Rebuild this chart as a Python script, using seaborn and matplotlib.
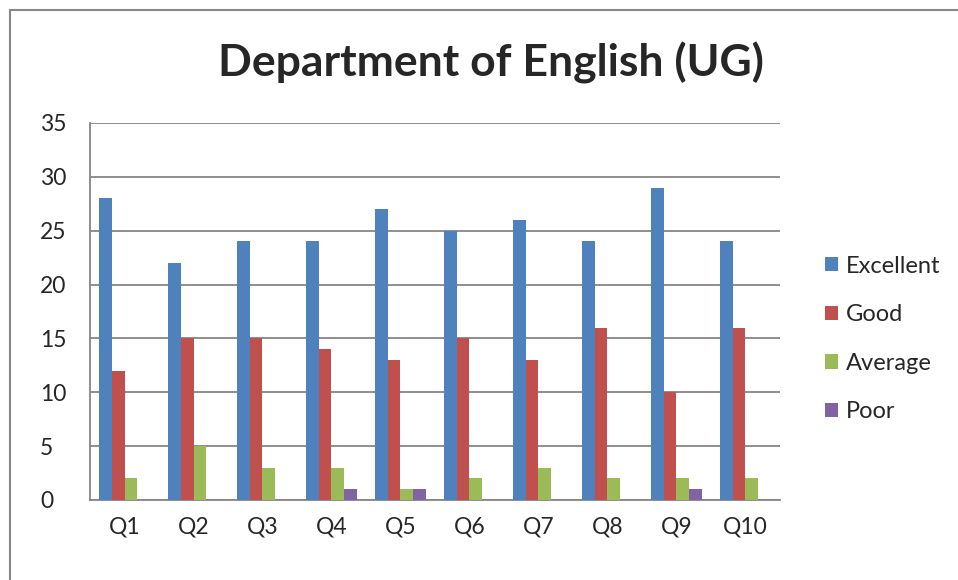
import matplotlib
matplotlib.use("Agg")
import matplotlib.pyplot as plt
import seaborn as sns
import pandas as pd
from matplotlib.lines import Line2D

questions = ["Q1", "Q2", "Q3", "Q4", "Q5", "Q6", "Q7", "Q8", "Q9", "Q10"]
excellent = [28, 22, 24, 24, 27, 25, 26, 24, 29, 24]
good = [12, 15, 15, 14, 13, 15, 13, 16, 10, 16]
average = [2, 5, 3, 3, 1, 2, 3, 2, 2, 2]
poor = [0, 0, 0, 1, 1, 0, 0, 0, 1, 0]
ratings = ["Excellent", "Good", "Average", "Poor"]
colors = ["#4F81BD", "#C0504D", "#9BBB59", "#8064A2"]

rows = []
for name, vals in zip(ratings, [excellent, good, average, poor]):
    for q, v in zip(questions, vals):
        rows.append({"Question": q, "Rating": name, "Count": v})
df = pd.DataFrame(rows)

sns.set_theme(style="white")
plt.rcParams["font.family"] = ["Lato", "DejaVu Sans"]

fig = plt.figure(figsize=(9.58, 5.8), dpi=100)
ax = fig.add_axes([0.094, 0.138, 0.72, 0.65])

sns.barplot(data=df, x="Question", y="Count", hue="Rating", order=questions,
            hue_order=ratings, palette=colors, width=0.74, saturation=1,
            linewidth=0, ax=ax, zorder=3)

ax.set_ylim(0, 35)
ax.set_yticks(range(0, 36, 5))
ax.set_xlim(-0.5, len(questions) - 0.5)
ax.yaxis.grid(True, color="#868686", linewidth=1.3, zorder=0)
ax.set_axisbelow(True)
for s in ["top", "right"]:
    ax.spines[s].set_visible(False)
for s in ["left", "bottom"]:
    ax.spines[s].set_color("#868686")
    ax.spines[s].set_linewidth(1.3)
ax.tick_params(axis="y", left=False, length=0, labelsize=16.5, pad=36)
for lab in ax.get_yticklabels():
    lab.set_horizontalalignment("left")
ax.tick_params(axis="x", bottom=False, labelsize=16.5, pad=6)
ax.set_xlabel("")
ax.set_ylabel("")

fig.text(491 / 958, 1 - 63 / 580, "Department of English (UG)", fontsize=32,
         fontweight="bold", ha="center", va="center")

leg = ax.legend(loc="center left", bbox_to_anchor=(1.065, 0.427), frameon=False,
                fontsize=17, handlelength=0.55, handleheight=0.55,
                labelspacing=1.17, handletextpad=0.35, borderpad=0,
                borderaxespad=0)

# chart-area border
fig.add_artist(Line2D([10 / 958, 10 / 958], [0, 1 - 10 / 580], color="#888888",
                      linewidth=1.5, transform=fig.transFigure))
fig.add_artist(Line2D([10 / 958, 1], [1 - 10 / 580, 1 - 10 / 580], color="#888888",
                      linewidth=1.5, transform=fig.transFigure))

fig.savefig("out.png", dpi=100)
